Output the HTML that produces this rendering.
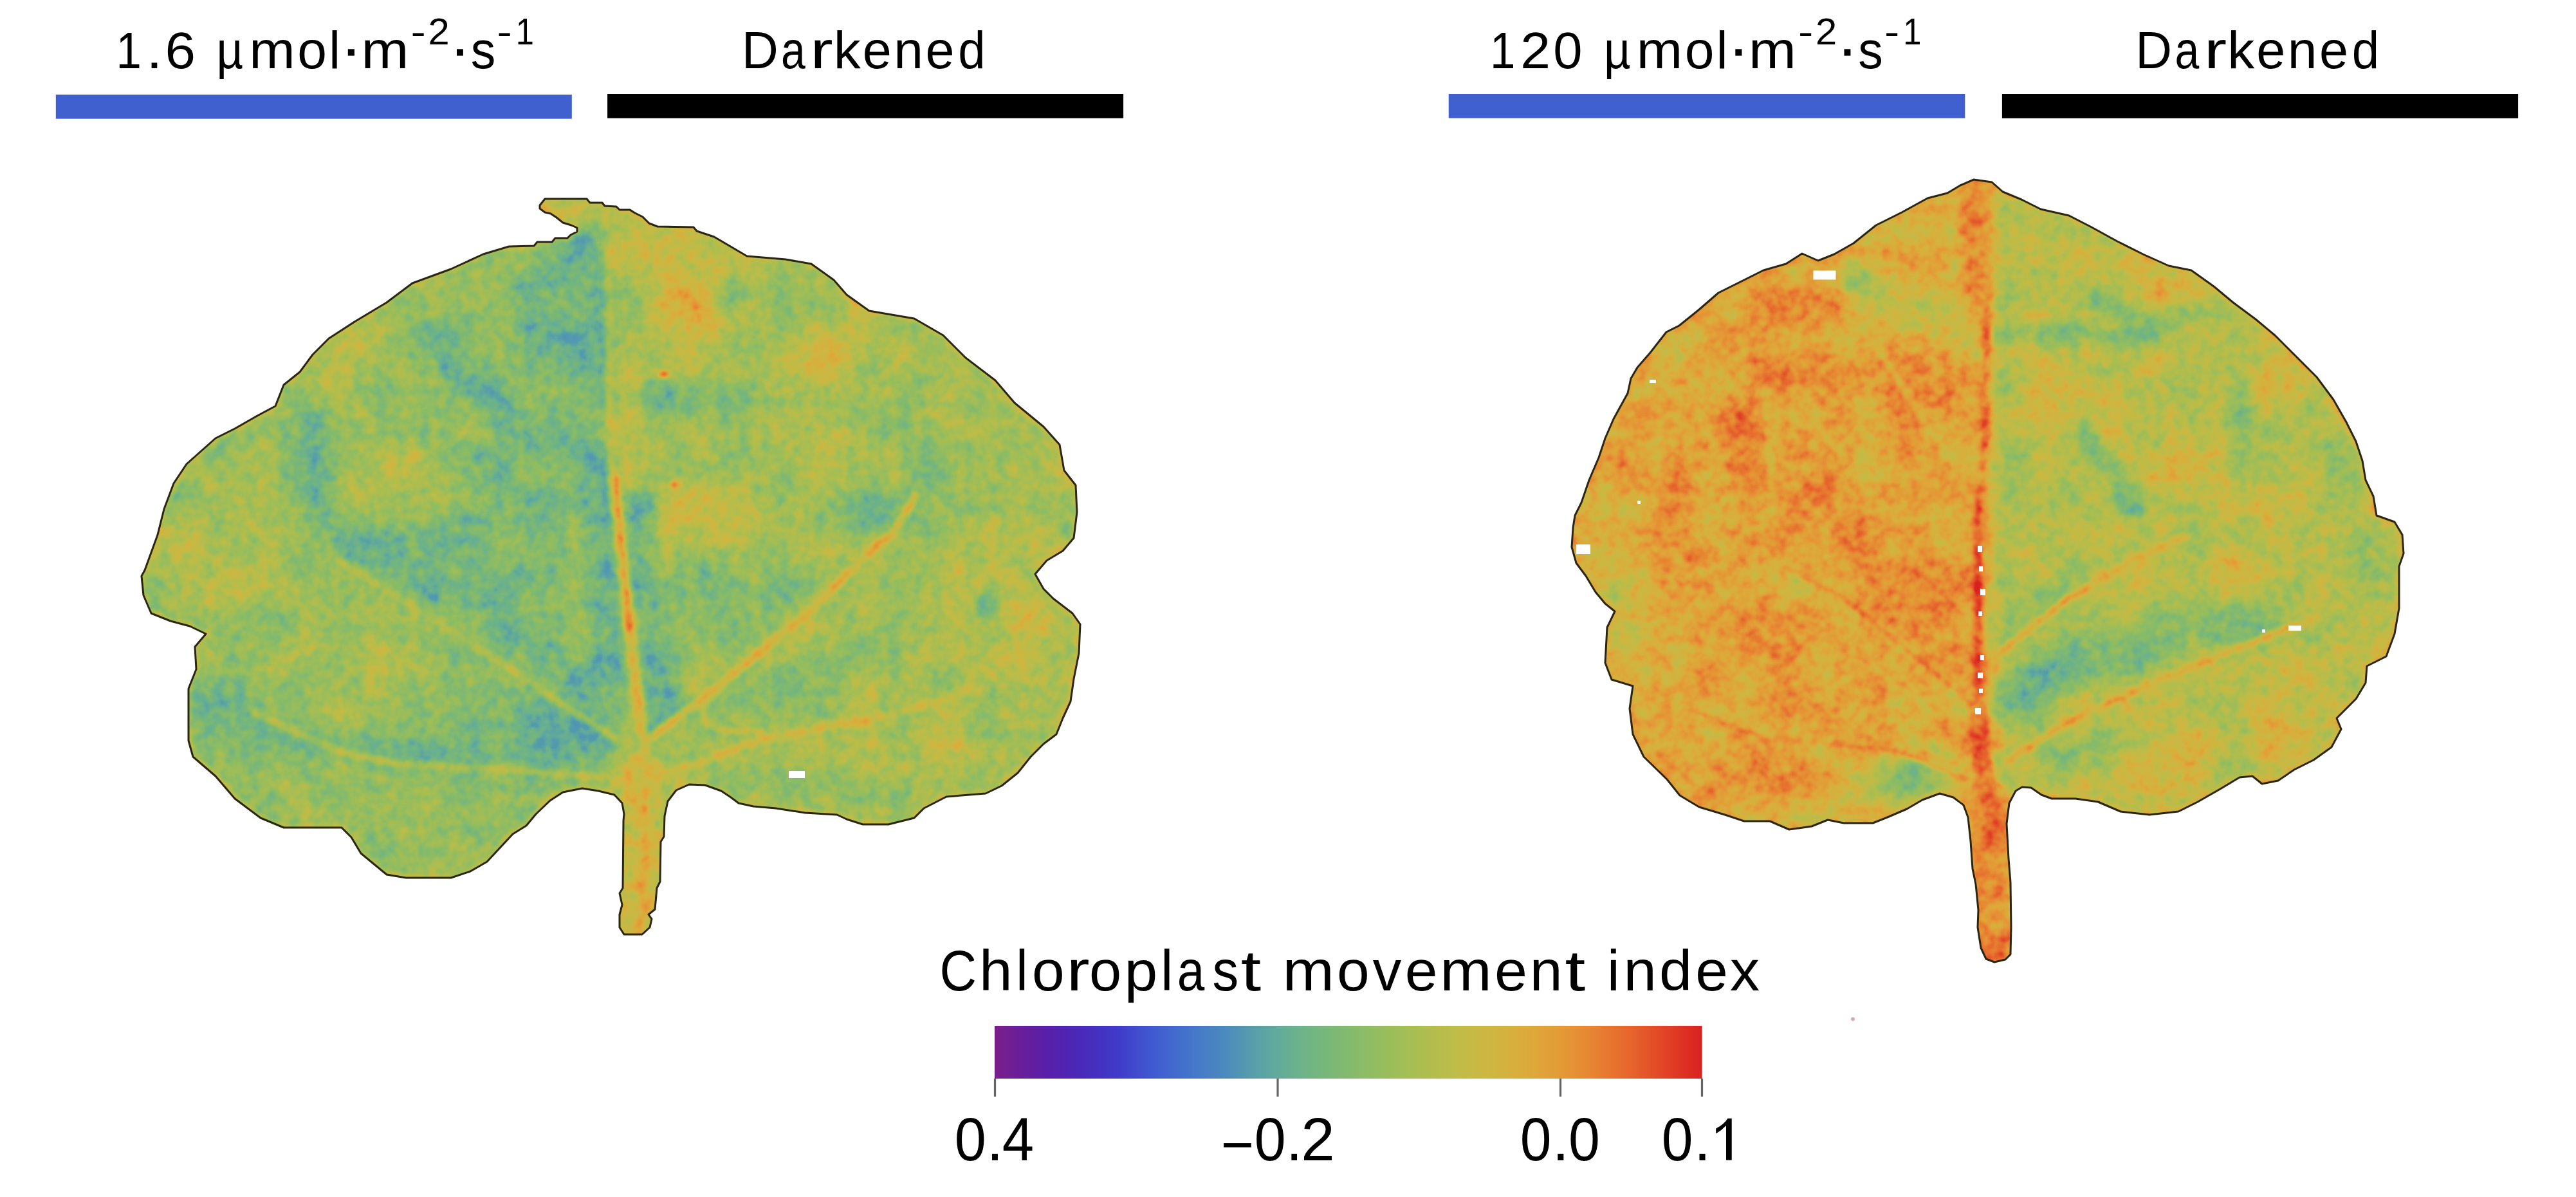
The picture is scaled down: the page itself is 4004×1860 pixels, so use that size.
<!DOCTYPE html>
<html><head><meta charset="utf-8"><title>Chloroplast movement index</title>
<style>html,body{margin:0;padding:0;background:#fff;}svg{display:block;}text{font-family:"Liberation Sans",sans-serif;fill:#000;}</style></head><body>
<svg width="4004" height="1860" viewBox="0 0 4004 1860">
<defs>
<linearGradient id="cb" x1="0" y1="0" x2="1" y2="0"><stop offset="0.0000" stop-color="#7a1e8a"/><stop offset="0.0250" stop-color="#6f1e95"/><stop offset="0.0500" stop-color="#631e9f"/><stop offset="0.0750" stop-color="#581faa"/><stop offset="0.1000" stop-color="#5024b2"/><stop offset="0.1250" stop-color="#492aba"/><stop offset="0.1500" stop-color="#4432c2"/><stop offset="0.1750" stop-color="#403bc9"/><stop offset="0.2000" stop-color="#404bcd"/><stop offset="0.2250" stop-color="#405bd0"/><stop offset="0.2500" stop-color="#4268ce"/><stop offset="0.2750" stop-color="#4574cb"/><stop offset="0.3000" stop-color="#487fc5"/><stop offset="0.3250" stop-color="#4b8abe"/><stop offset="0.3500" stop-color="#5296b2"/><stop offset="0.3750" stop-color="#5aa2a6"/><stop offset="0.4000" stop-color="#62aa9a"/><stop offset="0.4250" stop-color="#6ab18e"/><stop offset="0.4500" stop-color="#72b582"/><stop offset="0.4750" stop-color="#7ab877"/><stop offset="0.5000" stop-color="#83ba6d"/><stop offset="0.5250" stop-color="#8dbc65"/><stop offset="0.5500" stop-color="#97bd5d"/><stop offset="0.5750" stop-color="#a1be57"/><stop offset="0.6000" stop-color="#abbe51"/><stop offset="0.6250" stop-color="#b4bd4c"/><stop offset="0.6500" stop-color="#bebc48"/><stop offset="0.6750" stop-color="#c6b944"/><stop offset="0.7000" stop-color="#ceb641"/><stop offset="0.7250" stop-color="#d5b13e"/><stop offset="0.7500" stop-color="#dbab3b"/><stop offset="0.7750" stop-color="#e0a339"/><stop offset="0.8000" stop-color="#e39a36"/><stop offset="0.8250" stop-color="#e68e34"/><stop offset="0.8500" stop-color="#e78232"/><stop offset="0.8750" stop-color="#e7732f"/><stop offset="0.9000" stop-color="#e6642c"/><stop offset="0.9250" stop-color="#e45329"/><stop offset="0.9500" stop-color="#e14226"/><stop offset="0.9750" stop-color="#dd3123"/><stop offset="1.0000" stop-color="#d92120"/></linearGradient>
<clipPath id="c1"><path d="M839 319 L847 309 L912 309 L917 315 L936 315 L940 320 L958 321 L963 326 L979 326 L987 331 L999 337 L1009 347 L1022 352 L1078 353 L1083 359 L1110 368 L1161 398 L1221 403 L1261 410 L1296 435 L1316 458 L1351 483 L1421 495 L1466 521 L1501 556 L1547 591 L1577 626 L1622 663 L1647 691 L1654 731 L1672 754 L1674 796 L1669 836 L1652 856 L1627 871 L1609 892 L1622 915 L1637 930 L1667 953 L1679 970 L1677 1015 L1669 1055 L1664 1090 L1652 1116 L1642 1141 L1622 1156 L1602 1176 L1582 1201 L1557 1221 L1532 1233 L1471 1238 L1436 1256 L1421 1271 L1381 1281 L1341 1281 L1316 1273 L1301 1266 L1251 1263 L1206 1256 L1171 1253 L1148 1248 L1136 1239 L1121 1229 L1096 1220 L1071 1219 L1051 1228 L1038 1245 L1033 1268 L1032 1300 L1027 1308 L1026 1370 L1021 1380 L1018 1413 L1008 1421 L1013 1428 L1010 1441 L998 1452 L970 1452 L963 1441 L963 1421 L967 1406 L963 1388 L968 1380 L969 1275 L970 1265 L967 1248 L955 1235 L930 1229 L905 1225 L875 1231 L855 1244 L833 1265 L818 1283 L797 1296 L757 1339 L731 1354 L701 1364 L631 1364 L601 1359 L561 1326 L546 1301 L531 1286 L441 1286 L405 1271 L365 1241 L335 1206 L300 1176 L293 1151 L293 1070 L305 1040 L303 1005 L320 985 L295 973 L265 965 L235 953 L223 925 L220 895 L225 886 L245 831 L255 791 L270 751 L290 721 L335 681 L365 666 L400 646 L428 631 L441 598 L466 578 L486 551 L511 526 L551 500 L601 470 L641 440 L701 418 L751 395 L791 383 L830 382 L835 376 L858 376 L863 370 L882 370 L887 365 L897 360 L897 354 L888 350 L875 346 L865 338 L856 332 L847 330 L839 324Z"/></clipPath>
<clipPath id="c2"><path d="M3068 279 L3096 283 L3113 298 L3142 310 L3172 325 L3216 335 L3251 353 L3291 375 L3331 395 L3371 413 L3406 420 L3441 445 L3471 470 L3506 496 L3536 521 L3566 551 L3601 586 L3627 621 L3647 656 L3662 686 L3672 716 L3677 746 L3689 771 L3694 801 L3722 811 L3734 831 L3736 860 L3729 880 L3729 945 L3722 985 L3709 1020 L3679 1035 L3677 1061 L3662 1086 L3632 1116 L3639 1133 L3624 1161 L3596 1181 L3566 1196 L3541 1213 L3516 1218 L3501 1206 L3481 1208 L3451 1226 L3416 1246 L3386 1261 L3341 1266 L3296 1261 L3261 1246 L3226 1241 L3189 1241 L3173 1235 L3157 1224 L3143 1223 L3133 1229 L3123 1248 L3119 1280 L3122 1334 L3125 1371 L3126 1441 L3125 1483 L3117 1491 L3100 1495 L3087 1490 L3079 1473 L3074 1441 L3075 1414 L3071 1374 L3066 1350 L3063 1307 L3059 1270 L3052 1251 L3036 1239 L3015 1233 L2988 1243 L2964 1257 L2936 1269 L2911 1279 L2866 1279 L2841 1274 L2816 1284 L2781 1289 L2751 1276 L2711 1276 L2681 1266 L2641 1254 L2611 1236 L2591 1211 L2555 1176 L2538 1141 L2533 1101 L2538 1066 L2505 1056 L2495 1030 L2498 975 L2510 950 L2495 938 L2480 920 L2465 895 L2450 875 L2443 850 L2445 820 L2448 801 L2458 781 L2470 746 L2485 711 L2495 681 L2508 651 L2530 611 L2535 588 L2545 571 L2565 548 L2590 516 L2610 506 L2641 481 L2671 455 L2701 440 L2741 420 L2776 410 L2801 394 L2826 405 L2851 395 L2881 378 L2916 350 L2956 330 L2996 308 L3027 300 L3047 288Z"/></clipPath>
<filter id="h1" filterUnits="userSpaceOnUse" x="200" y="290" width="1500" height="1180" color-interpolation-filters="sRGB">
<feTurbulence type="fractalNoise" baseFrequency="0.016" numOctaves="3" seed="3" result="n1"/>
<feColorMatrix in="n1" type="matrix" values="1 0 0 0 0 1 0 0 0 0 1 0 0 0 0 0 0 0 0 1" result="g1"/>
<feTurbulence type="fractalNoise" baseFrequency="0.06" numOctaves="2" seed="10" result="n2"/>
<feColorMatrix in="n2" type="matrix" values="1 0 0 0 0 1 0 0 0 0 1 0 0 0 0 0 0 0 0 1" result="g2"/>
<feComposite in="SourceGraphic" in2="g1" operator="arithmetic" k1="0" k2="1" k3="0.230" k4="-0.1150" result="s1"/>
<feComposite in="s1" in2="g2" operator="arithmetic" k1="0" k2="1" k3="0.220" k4="-0.1100" result="s2"/>
<feComponentTransfer in="s2"><feFuncR type="table" tableValues="0.2554 0.2571 0.2588 0.2605 0.2622 0.2640 0.2657 0.2677 0.2703 0.2729 0.2755 0.2780 0.2806 0.2832 0.2858 0.2883 0.2918 0.2978 0.3039 0.3099 0.3159 0.3219 0.3279 0.3339 0.3514 0.3710 0.3906 0.4102 0.4299 0.4498 0.4709 0.4928 0.5155 0.5387 0.5623 0.5864 0.6107 0.6351 0.6593 0.6834 0.7070 0.7300 0.7522 0.7734 0.7935 0.8123 0.8296 0.8453 0.8594 0.8716 0.8820 0.8905 0.8972 0.9019 0.9048 0.9058 0.9052 0.9029 0.8991 0.8939 0.8873 0.8796 0.8708 0.8611 0.8505"/><feFuncG type="table" tableValues="0.3736 0.3848 0.3960 0.4071 0.4183 0.4294 0.4406 0.4510 0.4604 0.4699 0.4793 0.4887 0.4982 0.5076 0.5170 0.5265 0.5362 0.5465 0.5567 0.5670 0.5773 0.5876 0.5979 0.6082 0.6337 0.6533 0.6729 0.6913 0.7008 0.7100 0.7175 0.7241 0.7297 0.7345 0.7384 0.7414 0.7436 0.7449 0.7451 0.7443 0.7424 0.7392 0.7346 0.7284 0.7206 0.7110 0.6994 0.6857 0.6697 0.6514 0.6306 0.6073 0.5814 0.5529 0.5218 0.4883 0.4524 0.4145 0.3748 0.3337 0.2917 0.2495 0.2076 0.1670 0.1286"/><feFuncB type="table" tableValues="0.8113 0.8096 0.8079 0.8061 0.8044 0.8027 0.8010 0.7979 0.7927 0.7876 0.7824 0.7773 0.7721 0.7670 0.7618 0.7567 0.7501 0.7398 0.7295 0.7192 0.7089 0.6986 0.6884 0.6781 0.6494 0.6200 0.5906 0.5613 0.5325 0.5039 0.4771 0.4519 0.4285 0.4068 0.3869 0.3686 0.3519 0.3366 0.3226 0.3099 0.2982 0.2876 0.2778 0.2688 0.2606 0.2529 0.2457 0.2390 0.2326 0.2264 0.2204 0.2145 0.2087 0.2028 0.1967 0.1905 0.1841 0.1775 0.1706 0.1634 0.1560 0.1484 0.1407 0.1328 0.1248"/></feComponentTransfer>
</filter>
<filter id="h2" filterUnits="userSpaceOnUse" x="2420" y="260" width="1340" height="1250" color-interpolation-filters="sRGB">
<feTurbulence type="fractalNoise" baseFrequency="0.016" numOctaves="3" seed="11" result="n1"/>
<feColorMatrix in="n1" type="matrix" values="1 0 0 0 0 1 0 0 0 0 1 0 0 0 0 0 0 0 0 1" result="g1"/>
<feTurbulence type="fractalNoise" baseFrequency="0.06" numOctaves="2" seed="18" result="n2"/>
<feColorMatrix in="n2" type="matrix" values="1 0 0 0 0 1 0 0 0 0 1 0 0 0 0 0 0 0 0 1" result="g2"/>
<feComposite in="SourceGraphic" in2="g1" operator="arithmetic" k1="0" k2="1" k3="0.230" k4="-0.1150" result="s1"/>
<feComposite in="s1" in2="g2" operator="arithmetic" k1="0" k2="1" k3="0.220" k4="-0.1100" result="s2"/>
<feComponentTransfer in="s2"><feFuncR type="table" tableValues="0.2554 0.2571 0.2588 0.2605 0.2622 0.2640 0.2657 0.2677 0.2703 0.2729 0.2755 0.2780 0.2806 0.2832 0.2858 0.2883 0.2918 0.2978 0.3039 0.3099 0.3159 0.3219 0.3279 0.3339 0.3514 0.3710 0.3906 0.4102 0.4299 0.4498 0.4709 0.4928 0.5155 0.5387 0.5623 0.5864 0.6107 0.6351 0.6593 0.6834 0.7070 0.7300 0.7522 0.7734 0.7935 0.8123 0.8296 0.8453 0.8594 0.8716 0.8820 0.8905 0.8972 0.9019 0.9048 0.9058 0.9052 0.9029 0.8991 0.8939 0.8873 0.8796 0.8708 0.8611 0.8505"/><feFuncG type="table" tableValues="0.3736 0.3848 0.3960 0.4071 0.4183 0.4294 0.4406 0.4510 0.4604 0.4699 0.4793 0.4887 0.4982 0.5076 0.5170 0.5265 0.5362 0.5465 0.5567 0.5670 0.5773 0.5876 0.5979 0.6082 0.6337 0.6533 0.6729 0.6913 0.7008 0.7100 0.7175 0.7241 0.7297 0.7345 0.7384 0.7414 0.7436 0.7449 0.7451 0.7443 0.7424 0.7392 0.7346 0.7284 0.7206 0.7110 0.6994 0.6857 0.6697 0.6514 0.6306 0.6073 0.5814 0.5529 0.5218 0.4883 0.4524 0.4145 0.3748 0.3337 0.2917 0.2495 0.2076 0.1670 0.1286"/><feFuncB type="table" tableValues="0.8113 0.8096 0.8079 0.8061 0.8044 0.8027 0.8010 0.7979 0.7927 0.7876 0.7824 0.7773 0.7721 0.7670 0.7618 0.7567 0.7501 0.7398 0.7295 0.7192 0.7089 0.6986 0.6884 0.6781 0.6494 0.6200 0.5906 0.5613 0.5325 0.5039 0.4771 0.4519 0.4285 0.4068 0.3869 0.3686 0.3519 0.3366 0.3226 0.3099 0.2982 0.2876 0.2778 0.2688 0.2606 0.2529 0.2457 0.2390 0.2326 0.2264 0.2204 0.2145 0.2087 0.2028 0.1967 0.1905 0.1841 0.1775 0.1706 0.1634 0.1560 0.1484 0.1407 0.1328 0.1248"/></feComponentTransfer>
</filter>
<filter id="b40L1" filterUnits="userSpaceOnUse" x="120" y="210" width="1660" height="1340"><feGaussianBlur stdDeviation="40"/></filter>
<filter id="b20L1" filterUnits="userSpaceOnUse" x="120" y="210" width="1660" height="1340"><feGaussianBlur stdDeviation="20"/></filter>
<filter id="b8L1" filterUnits="userSpaceOnUse" x="120" y="210" width="1660" height="1340"><feGaussianBlur stdDeviation="8"/></filter>
<filter id="b4L1" filterUnits="userSpaceOnUse" x="120" y="210" width="1660" height="1340"><feGaussianBlur stdDeviation="3.5"/></filter>
<filter id="b40L2" filterUnits="userSpaceOnUse" x="2340" y="180" width="1500" height="1410"><feGaussianBlur stdDeviation="40"/></filter>
<filter id="b20L2" filterUnits="userSpaceOnUse" x="2340" y="180" width="1500" height="1410"><feGaussianBlur stdDeviation="20"/></filter>
<filter id="b8L2" filterUnits="userSpaceOnUse" x="2340" y="180" width="1500" height="1410"><feGaussianBlur stdDeviation="8"/></filter>
<filter id="b4L2" filterUnits="userSpaceOnUse" x="2340" y="180" width="1500" height="1410"><feGaussianBlur stdDeviation="3.5"/></filter>
</defs>
<rect width="4004" height="1860" fill="#fff"/>
<rect x="86.8" y="147" width="802" height="37.6" fill="#4060cf"/>
<rect x="944.1" y="146" width="802" height="37.6" fill="#000"/>
<rect x="2251.7" y="146" width="802.6" height="37.6" fill="#4060cf"/>
<rect x="3111.9" y="146" width="802.2" height="37.7" fill="#000"/>
<text transform="translate(180.41,105.80) scale(0.8898,1)" font-size="79.5">1</text>
<text transform="translate(227.36,105.80) scale(1.1493,1)" font-size="79.5">.</text>
<text transform="translate(256.56,105.80) scale(1.0741,1)" font-size="79.5">6</text>
<text transform="translate(336.47,105.80) scale(0.8868,1)" font-size="81.4">µ</text>
<text transform="translate(387.20,105.80) scale(1.0537,1)" font-size="81.4">m</text>
<text transform="translate(462.25,105.80) scale(1.0095,1)" font-size="81.4">o</text>
<text transform="translate(511.13,105.80) scale(0.9784,1)" font-size="81.4">l</text>
<rect x="540.8" y="76.3" width="10.1" height="10.3"/>
<text transform="translate(561.61,105.80) scale(1.0905,1)" font-size="81.4">m</text>
<text transform="translate(638.59,68.90) scale(1.2397,1)" font-size="56.5">-</text>
<text transform="translate(665.50,68.90) scale(1.0567,1)" font-size="56.5">2</text>
<rect x="710.0" y="76.3" width="9.9" height="10.3"/>
<text transform="translate(731.76,105.80) scale(0.9467,1)" font-size="81.4">s</text>
<text transform="translate(772.49,68.90) scale(1.2397,1)" font-size="56.5">-</text>
<text transform="translate(801.83,68.90) scale(0.8990,1)" font-size="56.5">1</text>
<text transform="translate(2315.99,105.80) scale(0.8927,1)" font-size="79.5">1</text>
<text transform="translate(2363.27,105.80) scale(1.0575,1)" font-size="79.5">2</text>
<text transform="translate(2414.22,105.80) scale(1.0236,1)" font-size="79.5">0</text>
<text transform="translate(2492.97,105.80) scale(0.8868,1)" font-size="81.4">µ</text>
<text transform="translate(2543.70,105.80) scale(1.0537,1)" font-size="81.4">m</text>
<text transform="translate(2618.75,105.80) scale(1.0095,1)" font-size="81.4">o</text>
<text transform="translate(2667.63,105.80) scale(0.9784,1)" font-size="81.4">l</text>
<rect x="2697.3" y="76.3" width="10.1" height="10.3"/>
<text transform="translate(2718.11,105.80) scale(1.0905,1)" font-size="81.4">m</text>
<text transform="translate(2795.09,68.90) scale(1.2397,1)" font-size="56.5">-</text>
<text transform="translate(2822.00,68.90) scale(1.0567,1)" font-size="56.5">2</text>
<rect x="2866.5" y="76.3" width="9.9" height="10.3"/>
<text transform="translate(2888.26,105.80) scale(0.9467,1)" font-size="81.4">s</text>
<text transform="translate(2928.99,68.90) scale(1.2397,1)" font-size="56.5">-</text>
<text transform="translate(2958.33,68.90) scale(0.8990,1)" font-size="56.5">1</text>
<text transform="translate(1152.95,105.80) scale(0.9666,1)" font-size="81.4">D</text>
<text transform="translate(1214.01,105.80) scale(0.8347,1)" font-size="81.4">a</text>
<text transform="translate(1259.59,105.80) scale(1.2973,1)" font-size="81.4">r</text>
<text transform="translate(1295.83,105.80) scale(1.0330,1)" font-size="81.4">k</text>
<text transform="translate(1340.76,105.80) scale(0.9949,1)" font-size="81.4">e</text>
<text transform="translate(1389.24,105.80) scale(1.0093,1)" font-size="81.4">n</text>
<text transform="translate(1438.56,105.80) scale(0.9949,1)" font-size="81.4">e</text>
<text transform="translate(1489.30,105.80) scale(0.9370,1)" font-size="81.4">d</text>
<text transform="translate(3319.35,105.80) scale(0.9666,1)" font-size="81.4">D</text>
<text transform="translate(3380.41,105.80) scale(0.8347,1)" font-size="81.4">a</text>
<text transform="translate(3425.99,105.80) scale(1.2973,1)" font-size="81.4">r</text>
<text transform="translate(3462.23,105.80) scale(1.0330,1)" font-size="81.4">k</text>
<text transform="translate(3507.16,105.80) scale(0.9949,1)" font-size="81.4">e</text>
<text transform="translate(3555.64,105.80) scale(1.0093,1)" font-size="81.4">n</text>
<text transform="translate(3604.96,105.80) scale(0.9949,1)" font-size="81.4">e</text>
<text transform="translate(3655.70,105.80) scale(0.9370,1)" font-size="81.4">d</text>
<text transform="translate(1460.56,1539.10) scale(0.8942,1)" font-size="89">C</text>
<text transform="translate(1522.07,1539.10) scale(1.0414,1)" font-size="89">h</text>
<text transform="translate(1579.30,1539.10) scale(0.9332,1)" font-size="89">l</text>
<text transform="translate(1604.08,1539.10) scale(1.0233,1)" font-size="89">o</text>
<text transform="translate(1657.75,1539.10) scale(1.2090,1)" font-size="89">r</text>
<text transform="translate(1693.01,1539.10) scale(1.0137,1)" font-size="89">o</text>
<text transform="translate(1747.84,1539.10) scale(1.0394,1)" font-size="89">p</text>
<text transform="translate(1804.25,1539.10) scale(0.9588,1)" font-size="89">l</text>
<text transform="translate(1829.65,1539.10) scale(0.8596,1)" font-size="89">a</text>
<text transform="translate(1884.53,1539.10) scale(0.9148,1)" font-size="89">s</text>
<text transform="translate(1928.69,1539.10) scale(1.2716,1)" font-size="89">t</text>
<text transform="translate(1993.49,1539.10) scale(1.0840,1)" font-size="89">m</text>
<text transform="translate(2077.88,1539.10) scale(1.0233,1)" font-size="89">o</text>
<text transform="translate(2133.80,1539.10) scale(1.0002,1)" font-size="89">v</text>
<text transform="translate(2183.83,1539.10) scale(1.0249,1)" font-size="89">e</text>
<text transform="translate(2238.28,1539.10) scale(1.0856,1)" font-size="89">m</text>
<text transform="translate(2323.11,1539.10) scale(1.0296,1)" font-size="89">e</text>
<text transform="translate(2377.73,1539.10) scale(1.0262,1)" font-size="89">n</text>
<text transform="translate(2432.57,1539.10) scale(1.2848,1)" font-size="89">t</text>
<text transform="translate(2497.96,1539.10) scale(0.9972,1)" font-size="89">i</text>
<text transform="translate(2523.47,1539.10) scale(1.0368,1)" font-size="89">n</text>
<text transform="translate(2578.94,1539.10) scale(1.0319,1)" font-size="89">d</text>
<text transform="translate(2635.23,1539.10) scale(1.0225,1)" font-size="89">e</text>
<text transform="translate(2689.06,1539.10) scale(1.0366,1)" font-size="89">x</text>
<rect x="1546" y="1594" width="1099.5" height="82" fill="url(#cb)"/>
<rect x="1544.9" y="1676" width="3.2" height="28" fill="#666"/>
<rect x="1984.4" y="1676" width="3.2" height="28" fill="#666"/>
<rect x="2423.9" y="1676" width="3.2" height="28" fill="#666"/>
<rect x="2643.9" y="1676" width="3.2" height="28" fill="#666"/>
<text transform="translate(1483.65,1802.70) scale(0.9387,1)" font-size="94.04">0</text>
<text transform="translate(1533.47,1802.70) scale(0.9940,1)" font-size="94.04">.</text>
<text transform="translate(1557.76,1802.70) scale(0.9433,1)" font-size="94.04">4</text>
<rect x="1902.1" y="1776.1" width="42.6" height="6.7"/>
<text transform="translate(1949.67,1802.70) scale(0.9343,1)" font-size="94.04">0</text>
<text transform="translate(1999.06,1802.70) scale(0.9716,1)" font-size="94.04">.</text>
<text transform="translate(2022.25,1802.70) scale(1.0037,1)" font-size="94.04">2</text>
<text transform="translate(2362.68,1802.70) scale(0.9321,1)" font-size="94.04">0</text>
<text transform="translate(2412.57,1802.70) scale(1.0163,1)" font-size="94.04">.</text>
<text transform="translate(2438.07,1802.70) scale(0.9343,1)" font-size="94.04">0</text>
<text transform="translate(2582.78,1802.70) scale(0.9321,1)" font-size="94.04">0</text>
<text transform="translate(2632.67,1802.70) scale(1.0163,1)" font-size="94.04">.</text>
<path d="M2685.4 1737.9 L2691.7 1737.9 L2691.7 1802.7 L2683 1802.7 L2683 1749 Q2676 1756.5 2667.2 1761.5 L2667.2 1753.6 Q2680 1747 2685.4 1737.9 Z"/>
<g clip-path="url(#c1)"><g filter="url(#h1)">
<rect x="200" y="290" width="1500" height="1180" fill="#959595"/>
<g filter="url(#b8L1)">
<rect x="100" y="100" width="849" height="1600" fill="#868686"/>
</g>
<g filter="url(#b40L1)">
<ellipse cx="340" cy="850" rx="110" ry="140" fill="#9c9c9c" opacity="1" transform="rotate(0 340 850)"/>
<ellipse cx="545" cy="1005" rx="100" ry="110" fill="#969696" opacity="1" transform="rotate(0 545 1005)"/>
<ellipse cx="570" cy="1270" rx="230" ry="85" fill="#8f8f8f" opacity="1" transform="rotate(0 570 1270)"/>
<ellipse cx="545" cy="560" rx="110" ry="80" fill="#999999" opacity="1" transform="rotate(0 545 560)"/>
<ellipse cx="760" cy="830" rx="110" ry="90" fill="#787878" opacity="1" transform="rotate(0 760 830)"/>
<ellipse cx="1550" cy="940" rx="105" ry="120" fill="#a3a3a3" opacity="1" transform="rotate(0 1550 940)"/>
<ellipse cx="1420" cy="1190" rx="120" ry="50" fill="#a3a3a3" opacity="1" transform="rotate(0 1420 1190)"/>
<ellipse cx="1130" cy="950" rx="120" ry="90" fill="#808080" opacity="1" transform="rotate(0 1130 950)"/>
</g>
<g filter="url(#b20L1)">
<ellipse cx="620" cy="735" rx="95" ry="50" fill="#9c9c9c" opacity="1" transform="rotate(0 620 735)"/>
<ellipse cx="700" cy="450" rx="80" ry="40" fill="#949494" opacity="1" transform="rotate(-25 700 450)"/>
<polyline points="905,395 915,480 925,600" fill="none" stroke="#6e6e6e" stroke-width="95" stroke-linecap="round" stroke-linejoin="round" opacity="1"/>
<ellipse cx="835" cy="490" rx="55" ry="90" fill="#737373" opacity="1" transform="rotate(0 835 490)"/>
<ellipse cx="850" cy="1140" rx="105" ry="55" fill="#696969" opacity="1" transform="rotate(0 850 1140)"/>
<ellipse cx="352" cy="1108" rx="45" ry="50" fill="#6e6e6e" opacity="1" transform="rotate(0 352 1108)"/>
<ellipse cx="1078" cy="482" rx="55" ry="90" fill="#b6b6b6" opacity="1" transform="rotate(0 1078 482)"/>
<ellipse cx="1020" cy="375" rx="75" ry="38" fill="#b0b0b0" opacity="1" transform="rotate(0 1020 375)"/>
<ellipse cx="1285" cy="551" rx="55" ry="36" fill="#bababa" opacity="1" transform="rotate(0 1285 551)"/>
<ellipse cx="1107" cy="802" rx="85" ry="40" fill="#ababab" opacity="1" transform="rotate(0 1107 802)"/>
<ellipse cx="1300" cy="700" rx="60" ry="40" fill="#a6a6a6" opacity="1" transform="rotate(0 1300 700)"/>
<ellipse cx="1250" cy="1010" rx="70" ry="40" fill="#a3a3a3" opacity="1" transform="rotate(0 1250 1010)"/>
<ellipse cx="1300" cy="1235" rx="120" ry="28" fill="#878787" opacity="1" transform="rotate(0 1300 1235)"/>
<polyline points="1422,650 1422,820" fill="none" stroke="#808080" stroke-width="55" stroke-linecap="round" stroke-linejoin="round" opacity="1"/>
<ellipse cx="1345" cy="800" rx="50" ry="36" fill="#707070" opacity="1" transform="rotate(0 1345 800)"/>
<ellipse cx="1150" cy="1090" rx="45" ry="26" fill="#757575" opacity="1" transform="rotate(0 1150 1090)"/>
<polyline points="1207,1060 1300,1020 1391,976" fill="none" stroke="#838383" stroke-width="60" stroke-linecap="round" stroke-linejoin="round" opacity="1"/>
<ellipse cx="1130" cy="650" rx="40" ry="30" fill="#858585" opacity="1" transform="rotate(0 1130 650)"/>
</g>
<g filter="url(#b8L1)">
<polyline points="673,517 732,605 831,684 929,724" fill="none" stroke="#707070" stroke-width="48" stroke-linecap="round" stroke-linejoin="round" opacity="1"/>
<polyline points="496,655 494,763 515,842" fill="none" stroke="#737373" stroke-width="36" stroke-linecap="round" stroke-linejoin="round" opacity="1"/>
<polyline points="530,840 650,900 800,980 930,1085" fill="none" stroke="#737373" stroke-width="50" stroke-linecap="round" stroke-linejoin="round" opacity="1"/>
<polyline points="496,1158 752,1176" fill="none" stroke="#737373" stroke-width="40" stroke-linecap="round" stroke-linejoin="round" opacity="1"/>
<polyline points="925,760 943,950 958,1100" fill="none" stroke="#6e6e6e" stroke-width="50" stroke-linecap="round" stroke-linejoin="round" opacity="1"/>
<polyline points="972,345 975,600 985,740" fill="none" stroke="#9d9d9d" stroke-width="44" stroke-linecap="round" stroke-linejoin="round" opacity="1"/>
<ellipse cx="900" cy="334" rx="70" ry="20" fill="#a8a8a8" opacity="1" transform="rotate(0 900 334)"/>
<polyline points="1010,615 1146,615" fill="none" stroke="#787878" stroke-width="52" stroke-linecap="round" stroke-linejoin="round" opacity="1"/>
<ellipse cx="1136" cy="462" rx="22" ry="28" fill="#808080" opacity="1" transform="rotate(0 1136 462)"/>
<ellipse cx="1420" cy="778" rx="22" ry="28" fill="#737373" opacity="1" transform="rotate(0 1420 778)"/>
<ellipse cx="1535" cy="940" rx="22" ry="24" fill="#808080" opacity="1" transform="rotate(0 1535 940)"/>
<ellipse cx="1035" cy="1100" rx="26" ry="34" fill="#6b6b6b" opacity="1" transform="rotate(0 1035 1100)"/>
<polyline points="998,775 1005,950 1016,1125" fill="none" stroke="#757575" stroke-width="42" stroke-linecap="round" stroke-linejoin="round" opacity="1"/>
</g>
<g filter="url(#b4L1)">
<path d="M839 319 L847 309 L912 309 L917 315 L936 315 L940 320 L958 321 L963 326 L979 326 L987 331 L999 337 L1009 347 L1022 352 L1078 353 L1083 359 L1110 368 L1161 398 L1221 403 L1261 410 L1296 435 L1316 458 L1351 483 L1421 495 L1466 521 L1501 556 L1547 591 L1577 626 L1622 663 L1647 691 L1654 731 L1672 754 L1674 796 L1669 836 L1652 856 L1627 871 L1609 892 L1622 915 L1637 930 L1667 953 L1679 970 L1677 1015 L1669 1055 L1664 1090 L1652 1116 L1642 1141 L1622 1156 L1602 1176 L1582 1201 L1557 1221 L1532 1233 L1471 1238 L1436 1256 L1421 1271 L1381 1281 L1341 1281 L1316 1273 L1301 1266 L1251 1263 L1206 1256 L1171 1253 L1148 1248 L1136 1239 L1121 1229 L1096 1220 L1071 1219 L1051 1228 L1038 1245 L1033 1268 L1032 1300 L1027 1308 L1026 1370 L1021 1380 L1018 1413 L1008 1421 L1013 1428 L1010 1441 L998 1452 L970 1452 L963 1441 L963 1421 L967 1406 L963 1388 L968 1380 L969 1275 L970 1265 L967 1248 L955 1235 L930 1229 L905 1225 L875 1231 L855 1244 L833 1265 L818 1283 L797 1296 L757 1339 L731 1354 L701 1364 L631 1364 L601 1359 L561 1326 L546 1301 L531 1286 L441 1286 L405 1271 L365 1241 L335 1206 L300 1176 L293 1151 L293 1070 L305 1040 L303 1005 L320 985 L295 973 L265 965 L235 953 L223 925 L220 895 L225 886 L245 831 L255 791 L270 751 L290 721 L335 681 L365 666 L400 646 L428 631 L441 598 L466 578 L486 551 L511 526 L551 500 L601 470 L641 440 L701 418 L751 395 L791 383 L830 382 L835 376 L858 376 L863 370 L882 370 L887 365 L897 360 L897 354 L888 350 L875 346 L865 338 L856 332 L847 330 L839 324Z" fill="none" stroke="#bdbdbd" stroke-width="9" opacity="0.55"/>
<polyline points="949,340 949,615 954,743" fill="none" stroke="#9e9e9e" stroke-width="14" stroke-linecap="round" stroke-linejoin="round" opacity="1"/>
<polyline points="954,743 979,980 999,1148 999,1276 992,1450" fill="none" stroke="#b2b2b2" stroke-width="16" stroke-linecap="round" stroke-linejoin="round" opacity="1"/>
<polyline points="957,734 968,860 979,980" fill="none" stroke="#e6e6e6" stroke-width="6" stroke-linecap="round" stroke-linejoin="round" opacity="0.8"/>
<polyline points="975,1160 791,1039 624,931 525,872" fill="none" stroke="#9e9e9e" stroke-width="10" stroke-linecap="round" stroke-linejoin="round" opacity="1"/>
<polyline points="965,1210 791,1197 614,1187 525,1167 397,1108" fill="none" stroke="#a1a1a1" stroke-width="10" stroke-linecap="round" stroke-linejoin="round" opacity="1"/>
<polyline points="1009,1150 1092,1086 1184,1012 1239,967 1294,916 1349,861 1391,824" fill="none" stroke="#bababa" stroke-width="13" stroke-linecap="round" stroke-linejoin="round" opacity="1"/>
<polyline points="1391,824 1423,770" fill="none" stroke="#a8a8a8" stroke-width="12" stroke-linecap="round" stroke-linejoin="round" opacity="1"/>
<polyline points="1014,1203 1083,1187 1138,1164 1193,1148 1276,1132 1368,1114 1460,1091 1506,1068" fill="none" stroke="#b2b2b2" stroke-width="11" stroke-linecap="round" stroke-linejoin="round" opacity="1"/>
<polyline points="1092,1108 1100,1125 1118,1135 1184,1137" fill="none" stroke="#b2b2b2" stroke-width="8" stroke-linecap="round" stroke-linejoin="round" opacity="1"/>
<polyline points="998,1200 998,1300 992,1445" fill="none" stroke="#b0b0b0" stroke-width="60" stroke-linecap="round" stroke-linejoin="round" opacity="1"/>
<polyline points="1004,1225 1002,1330 996,1440" fill="none" stroke="#c4c4c4" stroke-width="10" stroke-linecap="round" stroke-linejoin="round" opacity="1"/>
<ellipse cx="1033" cy="581" rx="9" ry="4" fill="#f2f2f2" opacity="1" transform="rotate(0 1033 581)"/>
<ellipse cx="1048" cy="753" rx="7" ry="5" fill="#f2f2f2" opacity="1" transform="rotate(0 1048 753)"/>
<rect x="656" y="290" width="4" height="1180" fill="#000" opacity="0.07"/>
<rect x="809" y="290" width="4" height="1180" fill="#fff" opacity="0.07"/>
<rect x="1001" y="290" width="4" height="1180" fill="#fff" opacity="0.07"/>
<rect x="1213" y="290" width="4" height="1180" fill="#000" opacity="0.07"/>
<rect x="1504" y="290" width="4" height="1180" fill="#000" opacity="0.07"/>
</g>
</g></g>
<rect x="1226" y="1198" width="25" height="11" fill="#fff"/>
<path d="M839 319 L847 309 L912 309 L917 315 L936 315 L940 320 L958 321 L963 326 L979 326 L987 331 L999 337 L1009 347 L1022 352 L1078 353 L1083 359 L1110 368 L1161 398 L1221 403 L1261 410 L1296 435 L1316 458 L1351 483 L1421 495 L1466 521 L1501 556 L1547 591 L1577 626 L1622 663 L1647 691 L1654 731 L1672 754 L1674 796 L1669 836 L1652 856 L1627 871 L1609 892 L1622 915 L1637 930 L1667 953 L1679 970 L1677 1015 L1669 1055 L1664 1090 L1652 1116 L1642 1141 L1622 1156 L1602 1176 L1582 1201 L1557 1221 L1532 1233 L1471 1238 L1436 1256 L1421 1271 L1381 1281 L1341 1281 L1316 1273 L1301 1266 L1251 1263 L1206 1256 L1171 1253 L1148 1248 L1136 1239 L1121 1229 L1096 1220 L1071 1219 L1051 1228 L1038 1245 L1033 1268 L1032 1300 L1027 1308 L1026 1370 L1021 1380 L1018 1413 L1008 1421 L1013 1428 L1010 1441 L998 1452 L970 1452 L963 1441 L963 1421 L967 1406 L963 1388 L968 1380 L969 1275 L970 1265 L967 1248 L955 1235 L930 1229 L905 1225 L875 1231 L855 1244 L833 1265 L818 1283 L797 1296 L757 1339 L731 1354 L701 1364 L631 1364 L601 1359 L561 1326 L546 1301 L531 1286 L441 1286 L405 1271 L365 1241 L335 1206 L300 1176 L293 1151 L293 1070 L305 1040 L303 1005 L320 985 L295 973 L265 965 L235 953 L223 925 L220 895 L225 886 L245 831 L255 791 L270 751 L290 721 L335 681 L365 666 L400 646 L428 631 L441 598 L466 578 L486 551 L511 526 L551 500 L601 470 L641 440 L701 418 L751 395 L791 383 L830 382 L835 376 L858 376 L863 370 L882 370 L887 365 L897 360 L897 354 L888 350 L875 346 L865 338 L856 332 L847 330 L839 324Z" fill="none" stroke="#2a2612" stroke-width="3" stroke-linejoin="round"/>
<g clip-path="url(#c2)"><g filter="url(#h2)">
<rect x="2420" y="260" width="1340" height="1250" fill="#a2a2a2"/>
<g filter="url(#b8L2)">
<rect x="2300" y="100" width="800" height="1600" fill="#c4c4c4"/>
</g>
<g filter="url(#b20L2)">
<ellipse cx="2768" cy="523" rx="52" ry="84" fill="#d5d5d5" opacity="1" transform="rotate(0 2768 523)"/>
<ellipse cx="2705" cy="686" rx="42" ry="79" fill="#d5d5d5" opacity="1" transform="rotate(0 2705 686)"/>
<ellipse cx="2631" cy="870" rx="42" ry="42" fill="#d5d5d5" opacity="1" transform="rotate(0 2631 870)"/>
<ellipse cx="2795" cy="755" rx="47" ry="52" fill="#d5d5d5" opacity="1" transform="rotate(0 2795 755)"/>
<ellipse cx="2968" cy="612" rx="63" ry="68" fill="#d5d5d5" opacity="1" transform="rotate(0 2968 612)"/>
<ellipse cx="2990" cy="923" rx="63" ry="74" fill="#d5d5d5" opacity="1" transform="rotate(0 2990 923)"/>
<ellipse cx="2758" cy="976" rx="42" ry="42" fill="#d5d5d5" opacity="1" transform="rotate(0 2758 976)"/>
<ellipse cx="2758" cy="1191" rx="63" ry="36" fill="#d5d5d5" opacity="1" transform="rotate(0 2758 1191)"/>
<ellipse cx="2880" cy="820" rx="40" ry="50" fill="#d5d5d5" opacity="1" transform="rotate(0 2880 820)"/>
<ellipse cx="2600" cy="760" rx="35" ry="45" fill="#d5d5d5" opacity="1" transform="rotate(0 2600 760)"/>
<ellipse cx="2508" cy="960" rx="52" ry="95" fill="#acacac" opacity="1" transform="rotate(0 2508 960)"/>
<ellipse cx="2530" cy="1085" rx="36" ry="34" fill="#b2b2b2" opacity="1" transform="rotate(0 2530 1085)"/>
<ellipse cx="2475" cy="800" rx="25" ry="60" fill="#b2b2b2" opacity="1" transform="rotate(0 2475 800)"/>
<ellipse cx="2642" cy="550" rx="32" ry="42" fill="#bdbdbd" opacity="1" transform="rotate(0 2642 550)"/>
<ellipse cx="2540" cy="720" rx="25" ry="60" fill="#bdbdbd" opacity="1" transform="rotate(0 2540 720)"/>
<ellipse cx="2940" cy="1215" rx="72" ry="34" fill="#858585" opacity="1" transform="rotate(0 2940 1215)"/>
<ellipse cx="2995" cy="1196" rx="42" ry="30" fill="#757575" opacity="1" transform="rotate(0 2995 1196)"/>
<ellipse cx="2830" cy="1260" rx="60" ry="18" fill="#a8a8a8" opacity="1" transform="rotate(0 2830 1260)"/>
<polyline points="3120,985 3230,905 3330,860" fill="none" stroke="#858585" stroke-width="50" stroke-linecap="round" stroke-linejoin="round" opacity="1"/>
<polyline points="3135,1080 3250,1020 3400,975 3520,960" fill="none" stroke="#787878" stroke-width="70" stroke-linecap="round" stroke-linejoin="round" opacity="1"/>
<ellipse cx="3173" cy="1055" rx="40" ry="38" fill="#666666" opacity="1" transform="rotate(0 3173 1055)"/>
<ellipse cx="3476" cy="1190" rx="30" ry="14" fill="#808080" opacity="1" transform="rotate(0 3476 1190)"/>
<ellipse cx="3210" cy="1170" rx="52" ry="27" fill="#7a7a7a" opacity="1" transform="rotate(0 3210 1170)"/>
<ellipse cx="3637" cy="707" rx="37" ry="47" fill="#858585" opacity="1" transform="rotate(0 3637 707)"/>
<ellipse cx="3663" cy="880" rx="32" ry="53" fill="#878787" opacity="1" transform="rotate(0 3663 880)"/>
<ellipse cx="3130" cy="700" rx="25" ry="120" fill="#8f8f8f" opacity="1" transform="rotate(0 3130 700)"/>
<ellipse cx="3394" cy="733" rx="48" ry="52" fill="#b5b5b5" opacity="1" transform="rotate(0 3394 733)"/>
<ellipse cx="3184" cy="618" rx="58" ry="63" fill="#b5b5b5" opacity="1" transform="rotate(0 3184 618)"/>
<ellipse cx="3368" cy="428" rx="52" ry="42" fill="#b5b5b5" opacity="1" transform="rotate(0 3368 428)"/>
<ellipse cx="3484" cy="902" rx="63" ry="32" fill="#b5b5b5" opacity="1" transform="rotate(0 3484 902)"/>
<ellipse cx="3368" cy="1186" rx="73" ry="52" fill="#b5b5b5" opacity="1" transform="rotate(0 3368 1186)"/>
<ellipse cx="3568" cy="1123" rx="63" ry="63" fill="#b5b5b5" opacity="1" transform="rotate(0 3568 1123)"/>
<ellipse cx="3590" cy="565" rx="42" ry="63" fill="#b5b5b5" opacity="1" transform="rotate(0 3590 565)"/>
<ellipse cx="3300" cy="900" rx="50" ry="30" fill="#b5b5b5" opacity="1" transform="rotate(0 3300 900)"/>
</g>
<g filter="url(#b8L2)">
<polygon points="2832,428 2900,370 2990,315 3030,300 3040,480 3000,560 2900,500 2850,450" fill="#bbbbbb" opacity="1"/>
<polyline points="2862,434 2960,472 3068,528" fill="none" stroke="#ababab" stroke-width="58" stroke-linecap="round" stroke-linejoin="round" opacity="1"/>
<polyline points="3042,318 3042,430" fill="none" stroke="#a6a6a6" stroke-width="26" stroke-linecap="round" stroke-linejoin="round" opacity="1"/>
<ellipse cx="2885" cy="440" rx="28" ry="22" fill="#949494" opacity="1" transform="rotate(0 2885 440)"/>
<polyline points="3058,295 3075,480" fill="none" stroke="#d4d4d4" stroke-width="42" stroke-linecap="round" stroke-linejoin="round" opacity="1"/>
<polyline points="3105,520 3347,520" fill="none" stroke="#808080" stroke-width="30" stroke-linecap="round" stroke-linejoin="round" opacity="1"/>
<polyline points="3242,681 3290,740 3316,790" fill="none" stroke="#808080" stroke-width="34" stroke-linecap="round" stroke-linejoin="round" opacity="1"/>
<polyline points="3479,607 3479,723" fill="none" stroke="#858585" stroke-width="38" stroke-linecap="round" stroke-linejoin="round" opacity="1"/>
<polyline points="3263,470 3340,500 3421,480" fill="none" stroke="#858585" stroke-width="30" stroke-linecap="round" stroke-linejoin="round" opacity="1"/>
</g>
<g filter="url(#b4L2)">
<path d="M3068 279 L3096 283 L3113 298 L3142 310 L3172 325 L3216 335 L3251 353 L3291 375 L3331 395 L3371 413 L3406 420 L3441 445 L3471 470 L3506 496 L3536 521 L3566 551 L3601 586 L3627 621 L3647 656 L3662 686 L3672 716 L3677 746 L3689 771 L3694 801 L3722 811 L3734 831 L3736 860 L3729 880 L3729 945 L3722 985 L3709 1020 L3679 1035 L3677 1061 L3662 1086 L3632 1116 L3639 1133 L3624 1161 L3596 1181 L3566 1196 L3541 1213 L3516 1218 L3501 1206 L3481 1208 L3451 1226 L3416 1246 L3386 1261 L3341 1266 L3296 1261 L3261 1246 L3226 1241 L3189 1241 L3173 1235 L3157 1224 L3143 1223 L3133 1229 L3123 1248 L3119 1280 L3122 1334 L3125 1371 L3126 1441 L3125 1483 L3117 1491 L3100 1495 L3087 1490 L3079 1473 L3074 1441 L3075 1414 L3071 1374 L3066 1350 L3063 1307 L3059 1270 L3052 1251 L3036 1239 L3015 1233 L2988 1243 L2964 1257 L2936 1269 L2911 1279 L2866 1279 L2841 1274 L2816 1284 L2781 1289 L2751 1276 L2711 1276 L2681 1266 L2641 1254 L2611 1236 L2591 1211 L2555 1176 L2538 1141 L2533 1101 L2538 1066 L2505 1056 L2495 1030 L2498 975 L2510 950 L2495 938 L2480 920 L2465 895 L2450 875 L2443 850 L2445 820 L2448 801 L2458 781 L2470 746 L2485 711 L2495 681 L2508 651 L2530 611 L2535 588 L2545 571 L2565 548 L2590 516 L2610 506 L2641 481 L2671 455 L2701 440 L2741 420 L2776 410 L2801 394 L2826 405 L2851 395 L2881 378 L2916 350 L2956 330 L2996 308 L3027 300 L3047 288Z" fill="none" stroke="#d1d1d1" stroke-width="9" opacity="0.5"/>
<polyline points="3063,1102 2968,1018 2863,934 2758,881 2684,881 2600,900" fill="none" stroke="#bfbfbf" stroke-width="16" stroke-linecap="round" stroke-linejoin="round" opacity="1"/>
<polyline points="3068,1098 2968,1012 2863,928 2761,875" fill="none" stroke="#ebebeb" stroke-width="5" stroke-linecap="round" stroke-linejoin="round" opacity="0.8"/>
<polyline points="3053,1190 2947,1160 2821,1160 2716,1128 2632,1086" fill="none" stroke="#bfbfbf" stroke-width="16" stroke-linecap="round" stroke-linejoin="round" opacity="1"/>
<polyline points="3060,1212 2951,1168 2821,1152 2750,1150 2640,1108" fill="none" stroke="#ebebeb" stroke-width="5" stroke-linecap="round" stroke-linejoin="round" opacity="0.8"/>
<polyline points="2747,607 2752,730 2758,849" fill="none" stroke="#bdbdbd" stroke-width="11" stroke-linecap="round" stroke-linejoin="round" opacity="1"/>
<polyline points="2853,449 2930,560 2990,650 3060,760" fill="none" stroke="#bdbdbd" stroke-width="10" stroke-linecap="round" stroke-linejoin="round" opacity="1"/>
<polyline points="2650,650 2700,800 2760,880" fill="none" stroke="#bdbdbd" stroke-width="10" stroke-linecap="round" stroke-linejoin="round" opacity="1"/>
<polyline points="3105,1018 3210,934 3316,870 3400,832" fill="none" stroke="#bfbfbf" stroke-width="11" stroke-linecap="round" stroke-linejoin="round" opacity="1"/>
<polyline points="3116,1186 3210,1123 3347,1060 3453,1018 3558,976 3600,958" fill="none" stroke="#bfbfbf" stroke-width="11" stroke-linecap="round" stroke-linejoin="round" opacity="1"/>
<polyline points="3089,449 3084,681 3074,807" fill="none" stroke="#d1d1d1" stroke-width="18" stroke-linecap="round" stroke-linejoin="round" opacity="1"/>
<polyline points="3074,807 3074,1102 3084,1186 3094,1313" fill="none" stroke="#d9d9d9" stroke-width="20" stroke-linecap="round" stroke-linejoin="round" opacity="1"/>
<polyline points="3089,449 3084,681 3075,790" fill="none" stroke="#e8e8e8" stroke-width="7" stroke-linecap="round" stroke-linejoin="round" opacity="0.85"/>
<polyline points="3075,790 3074,1102 3084,1186 3092,1300" fill="none" stroke="#f5f5f5" stroke-width="9" stroke-linecap="round" stroke-linejoin="round" opacity="1"/>
<polyline points="3095,1240 3096,1313 3100,1470" fill="none" stroke="#d4d4d4" stroke-width="58" stroke-linecap="round" stroke-linejoin="round" opacity="1"/>
<polyline points="3074,1100 3080,1180 3090,1240" fill="none" stroke="#e0e0e0" stroke-width="30" stroke-linecap="round" stroke-linejoin="round" opacity="1"/>
<rect x="2851" y="260" width="4" height="1250" fill="#fff" opacity="0.07"/>
<rect x="3118" y="260" width="4" height="1250" fill="#000" opacity="0.07"/>
<rect x="3484" y="260" width="4" height="1250" fill="#000" opacity="0.07"/>
</g>
</g></g>
<rect x="2818.5" y="420.5" width="35" height="14" fill="#fff"/>
<rect x="3074" y="848" width="7" height="10" fill="#fff"/>
<rect x="3076" y="880" width="6" height="8" fill="#fff"/>
<rect x="3078" y="915" width="8" height="10" fill="#fff"/>
<rect x="3075" y="950" width="6" height="7" fill="#fff"/>
<rect x="3078" y="1018" width="6" height="8" fill="#fff"/>
<rect x="3074" y="1045" width="8" height="9" fill="#fff"/>
<rect x="3076" y="1070" width="6" height="7" fill="#fff"/>
<rect x="3070" y="1100" width="9" height="10" fill="#fff"/>
<rect x="2450" y="846" width="22" height="15" fill="#fff"/>
<rect x="2564" y="590" width="10" height="5" fill="#fff"/>
<rect x="2545" y="778" width="5" height="5" fill="#fff"/>
<rect x="3516" y="978" width="5" height="5" fill="#fff"/>
<rect x="3557" y="972" width="20" height="8" fill="#fff"/>
<path d="M3068 279 L3096 283 L3113 298 L3142 310 L3172 325 L3216 335 L3251 353 L3291 375 L3331 395 L3371 413 L3406 420 L3441 445 L3471 470 L3506 496 L3536 521 L3566 551 L3601 586 L3627 621 L3647 656 L3662 686 L3672 716 L3677 746 L3689 771 L3694 801 L3722 811 L3734 831 L3736 860 L3729 880 L3729 945 L3722 985 L3709 1020 L3679 1035 L3677 1061 L3662 1086 L3632 1116 L3639 1133 L3624 1161 L3596 1181 L3566 1196 L3541 1213 L3516 1218 L3501 1206 L3481 1208 L3451 1226 L3416 1246 L3386 1261 L3341 1266 L3296 1261 L3261 1246 L3226 1241 L3189 1241 L3173 1235 L3157 1224 L3143 1223 L3133 1229 L3123 1248 L3119 1280 L3122 1334 L3125 1371 L3126 1441 L3125 1483 L3117 1491 L3100 1495 L3087 1490 L3079 1473 L3074 1441 L3075 1414 L3071 1374 L3066 1350 L3063 1307 L3059 1270 L3052 1251 L3036 1239 L3015 1233 L2988 1243 L2964 1257 L2936 1269 L2911 1279 L2866 1279 L2841 1274 L2816 1284 L2781 1289 L2751 1276 L2711 1276 L2681 1266 L2641 1254 L2611 1236 L2591 1211 L2555 1176 L2538 1141 L2533 1101 L2538 1066 L2505 1056 L2495 1030 L2498 975 L2510 950 L2495 938 L2480 920 L2465 895 L2450 875 L2443 850 L2445 820 L2448 801 L2458 781 L2470 746 L2485 711 L2495 681 L2508 651 L2530 611 L2535 588 L2545 571 L2565 548 L2590 516 L2610 506 L2641 481 L2671 455 L2701 440 L2741 420 L2776 410 L2801 394 L2826 405 L2851 395 L2881 378 L2916 350 L2956 330 L2996 308 L3027 300 L3047 288Z" fill="none" stroke="#2a2612" stroke-width="3" stroke-linejoin="round"/>
<circle cx="2880" cy="1583.6" r="3" fill="#dba8c0"/>
</svg></body></html>
